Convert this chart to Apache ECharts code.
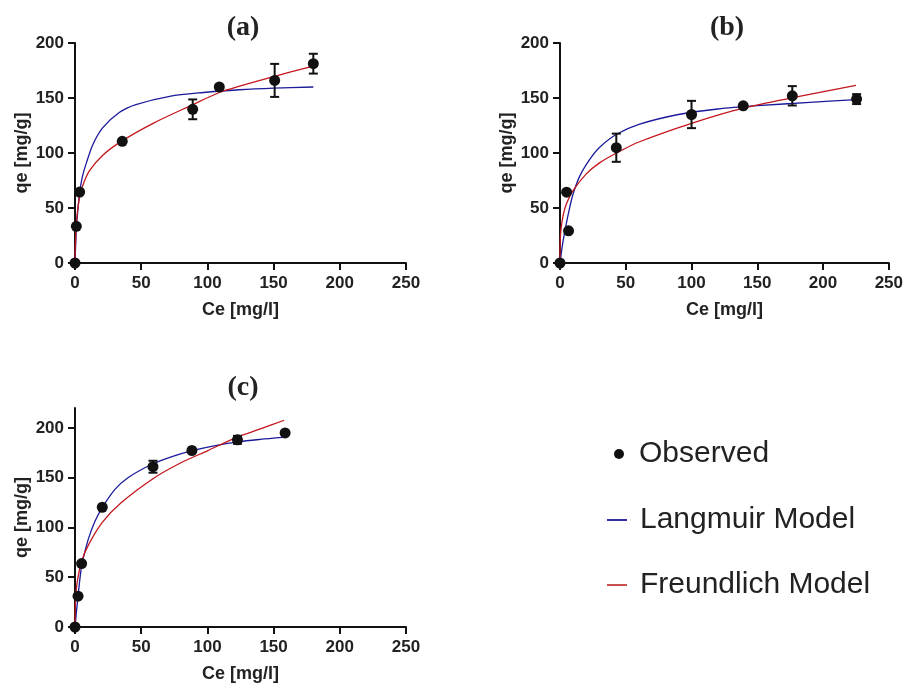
<!DOCTYPE html>
<html>
<head>
<meta charset="utf-8">
<script src="https://cdn.jsdelivr.net/npm/echarts@6/dist/echarts.min.js"></script>
<style>
  html, body { margin: 0; padding: 0; background: #fff; }
  #chart { width: 906px; height: 684px; }
</style>
</head>
<body>
<div id="chart"></div>
<script>
// 观测值 [Ce, qe] 及误差
const obsA = [[0, 0], [1, 33.3], [3.5, 64.5], [35.7, 110.6], [88.9, 139.7], [109, 160], [150.8, 166], [180, 181.2]];
const errA = [0, 0, 0, 0, 9, 0, 15, 9];
const obsB = [[0, 0], [5, 64.4], [6.5, 29.3], [42.8, 104.8], [100, 135], [139.3, 142.9], [176.6, 152], [225.5, 149]];
const errB = [0, 0, 0, 12.8, 12.4, 0, 8.8, 4.5];
const obsC = [[0, 0], [2.3, 31], [5, 63.7], [20.6, 120.3], [58.9, 161], [88.3, 177.3], [122.7, 188], [158.7, 195]];
const errC = [0, 0, 0, 0, 6, 0, 4, 0];

// 模型曲线
const langA = [[0, 0], [0.5, 16], [1, 31], [2.3, 50], [3.5, 64], [5.5, 78], [8.6, 91], [13.6, 108], [21, 123], [33.7, 137], [46, 144], [71.5, 151.5], [97, 155], [124, 157.5], [150, 159], [180, 160]];
const freuA = [[0, 0], [0.2, 14], [0.5, 21], [1, 36], [2, 48], [3.5, 60], [6, 71], [11, 84], [21, 98], [35.5, 111], [59, 127], [89, 144], [109, 155], [125, 161], [150, 169.5], [180, 179]];
const langB = [[0, 0], [1, 9], [2.5, 21], [5, 37], [7.5, 51], [10, 63], [15, 79], [22.5, 94], [30, 105], [43, 117], [60, 126], [90, 135], [120, 140], [150, 143], [190, 146], [225, 148.5]];
const freuB = [[0, 0], [0.1, 17], [0.5, 27], [1, 33], [2.5, 44], [5, 54], [10, 66], [20, 81], [30, 91], [43, 100], [60, 110], [100, 127], [140, 141], [180, 151], [225, 161.5]];
const langC = [[0, 0], [1, 14], [2.3, 31], [5, 61], [10, 88], [15, 106], [20.6, 120], [30, 138], [40, 150], [58.9, 164], [75, 172], [88, 177], [105, 182], [123, 186], [140, 188.5], [157, 190.5]];
const freuC = [[0, 0], [0.2, 22], [1, 38], [2.3, 50], [5, 66], [10, 82], [20.6, 105], [35, 125], [58.9, 149], [80, 165], [100, 177], [123, 191], [140, 199], [158, 207.7]];

const xTicks = [0, 50, 100, 150, 200, 250];
const yTicks = [0, 50, 100, 150, 200];
const panelTitles = ['(a)', '(b)', '(c)'];

const BLUE = '#1a1a9a';
const RED = '#c4161c';
const INK = '#111';
const TEXT = '#222';
const FONT = '"Liberation Sans", Arial, sans-serif';

const chart = echarts.init(document.getElementById('chart'));

function xAxis(idx) {
  return {
    gridIndex: idx, type: 'value', min: 0, max: 250, interval: 50,
    name: 'Ce [mg/l]', nameLocation: 'middle', nameGap: 38,
    nameTextStyle: { fontFamily: FONT, fontWeight: 'bold', fontSize: 18, color: TEXT },
    axisLine: { lineStyle: { color: INK, width: 2 } },
    axisTick: { length: 7, lineStyle: { color: INK, width: 2 }, customValues: xTicks },
    axisLabel: { margin: 12, fontFamily: FONT, fontWeight: 'bold', fontSize: 17, color: TEXT, customValues: xTicks },
    splitLine: { show: false }
  };
}

function yAxis(idx, max) {
  return {
    gridIndex: idx, type: 'value', min: 0, max: max, interval: 50,
    name: 'qe [mg/g]', nameLocation: 'middle', nameGap: 44,
    nameTextStyle: { fontFamily: FONT, fontWeight: 'bold', fontSize: 18, color: TEXT },
    axisLine: { show: true, lineStyle: { color: INK, width: 2 } },
    axisTick: { show: true, length: 7, lineStyle: { color: INK, width: 2 }, customValues: yTicks },
    axisLabel: { margin: 11, fontFamily: FONT, fontWeight: 'bold', fontSize: 17, color: TEXT, customValues: yTicks },
    splitLine: { show: false }
  };
}

function curve(idx, name, data, color) {
  return {
    name: name, type: 'line', xAxisIndex: idx, yAxisIndex: idx, data: data,
    showSymbol: false, smooth: 0.3, clip: false,
    itemStyle: { color: color },
    lineStyle: { color: color, width: 1.3 },
    silent: true, z: 2
  };
}

function points(idx, data) {
  return {
    name: 'Observed', type: 'scatter', xAxisIndex: idx, yAxisIndex: idx, data: data,
    symbolSize: 11, clip: false, itemStyle: { color: INK, opacity: 1 }, z: 4
  };
}

// 误差棒
function errorBars(idx, obs, err) {
  const data = [];
  obs.forEach((p, i) => {
    if (err[i] > 0) data.push([p[0], p[1] - err[i], p[1] + err[i]]);
  });
  return {
    type: 'custom', xAxisIndex: idx, yAxisIndex: idx, data: data, z: 3, silent: true,
    renderItem(params, api) {
      const lo = api.coord([api.value(0), api.value(1)]);
      const hi = api.coord([api.value(0), api.value(2)]);
      const w = 4.5;
      const style = { stroke: INK, lineWidth: 2 };
      return {
        type: 'group',
        children: [
          { type: 'line', shape: { x1: lo[0], y1: lo[1], x2: hi[0], y2: hi[1] }, style: style },
          { type: 'line', shape: { x1: lo[0] - w, y1: lo[1], x2: lo[0] + w, y2: lo[1] }, style: style },
          { type: 'line', shape: { x1: hi[0] - w, y1: hi[1], x2: hi[0] + w, y2: hi[1] }, style: style }
        ]
      };
    }
  };
}

function legend(name, top, left, w, h, icon, color, pad) {
  return {
    data: [{ name: name, icon: icon, itemStyle: { color: color, opacity: 1 } }],
    top: top, left: left, padding: 0, itemWidth: w, itemHeight: h,
    selectedMode: false,
    textStyle: { fontFamily: FONT, fontSize: 30, color: TEXT, padding: [0, 0, 0, pad] }
  };
}

const titlePos = [[243, 28], [727, 28], [243, 388]];

chart.setOption({
  animation: false,
  grid: [
    { left: 75, top: 43, width: 331, height: 220 },
    { left: 560, top: 43, width: 333, height: 220 },
    { left: 75, top: 408, width: 331, height: 220 }
  ],
  xAxis: [xAxis(0), xAxis(1), xAxis(2)],
  yAxis: [yAxis(0, 200), yAxis(1, 200), yAxis(2, 220)],
  legend: [
    legend('Observed', 439, 614, 10, 10, 'circle', INK, 10),
    legend('Langmuir Model', 505, 607, 20, 2, 'rect', '#3030a0', 8),
    legend('Freundlich Model', 570, 607, 20, 2, 'rect', '#c85050', 8)
  ],
  graphic: panelTitles.map((t, i) => ({
    type: 'text', x: titlePos[i][0], y: titlePos[i][1],
    style: {
      text: t, align: 'center', verticalAlign: 'middle', fill: TEXT,
      font: 'bold 28px "Liberation Serif", "Times New Roman", serif'
    }
  })),
  series: [
    curve(0, 'Langmuir Model', langA, BLUE),
    curve(0, 'Freundlich Model', freuA, RED),
    errorBars(0, obsA, errA),
    points(0, obsA),
    curve(1, 'Langmuir Model', langB, BLUE),
    curve(1, 'Freundlich Model', freuB, RED),
    errorBars(1, obsB, errB),
    points(1, obsB),
    curve(2, 'Langmuir Model', langC, BLUE),
    curve(2, 'Freundlich Model', freuC, RED),
    errorBars(2, obsC, errC),
    points(2, obsC)
  ]
});
</script>
</body>
</html>
